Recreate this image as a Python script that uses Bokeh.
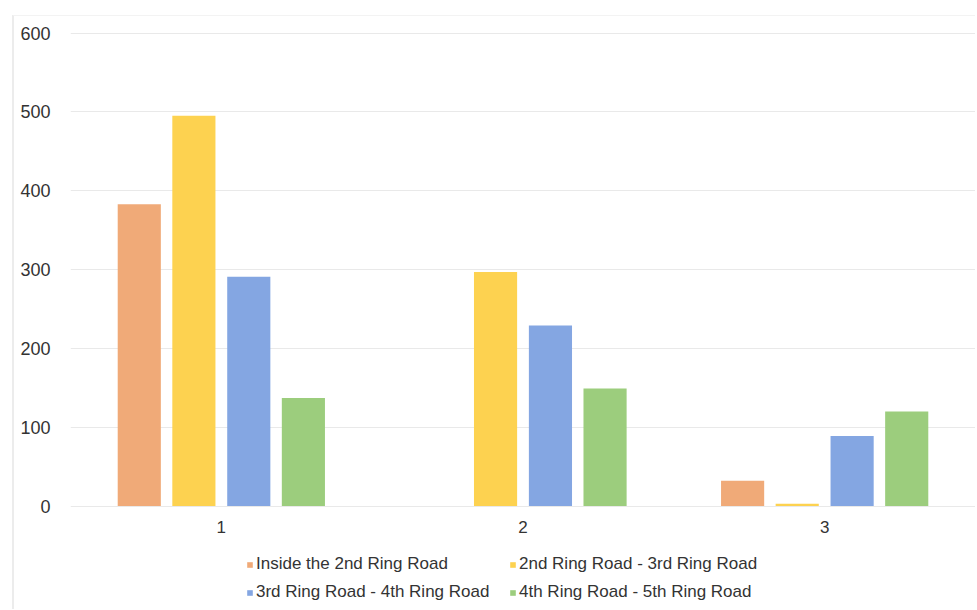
from bokeh.plotting import figure
from bokeh.models import ColumnDataSource, FactorRange, Range1d, Legend, LegendItem
from bokeh.core.properties import value
from bokeh.transform import dodge
from bokeh.embed import file_html
from bokeh.resources import INLINE

# Ring-road zones (series) and grouping categories
categories = ["1", "2", "3"]
series_names = [
    "Inside the 2nd Ring Road",
    "2nd Ring Road - 3rd Ring Road",
    "3rd Ring Road - 4th Ring Road",
    "4th Ring Road - 5th Ring Road",
]
inside_2nd = [383, 0, 32]
ring_2_3 = [495, 297, 3]
ring_3_4 = [291, 229, 89]
ring_4_5 = [137, 149, 120]
y_ticks = [0, 100, 200, 300, 400, 500, 600]

colors = ["#F0AA78", "#FDD250", "#84A6E2", "#9CCD7D"]
offsets = [-0.272, -0.091, 0.091, 0.272]
keys = ["inside_2nd", "ring_2_3", "ring_3_4", "ring_4_5"]
FONT = "Liberation Sans"

source = ColumnDataSource(data=dict(
    cat=categories,
    inside_2nd=inside_2nd,
    ring_2_3=ring_2_3,
    ring_3_4=ring_3_4,
    ring_4_5=ring_4_5,
))

# The plotting frame runs down to the bottom edge so the category labels and
# the two-row legend can live inside it, underneath the zero line.
p = figure(
    x_range=FactorRange(*categories, range_padding=0),
    y_range=Range1d(-132.5, 602),
    width=963, height=594,
    output_backend="svg", toolbar_location=None,
    min_border_left=56, min_border_right=2,
    min_border_top=15, min_border_bottom=0,
)
p.margin = (15, 0, 0, 12)
p.styles = {"border-left": "2px solid #ececec", "border-top": "1px solid #f3f3f3"}
p.outline_line_color = None
p.background_fill_color = "white"
p.border_fill_color = "white"

items = []
for key, name, col, off in zip(keys, series_names, colors, offsets):
    r = p.vbar(x=dodge("cat", off, range=p.x_range), top=key, bottom=0, width=0.143,
               source=source, fill_color=col, line_color=None)
    items.append(LegendItem(label=name, renderers=[r]))

# Category labels under the zero line
p.text(x=categories, y=[0] * len(categories), text=categories, y_offset=21,
       text_align="center", text_baseline="middle",
       text_font=value(FONT), text_font_size="17px", text_color="#333333")

p.xaxis.visible = False
p.xgrid.grid_line_color = None
p.ygrid.ticker = y_ticks
p.ygrid.grid_line_color = "#e9e9e9"
p.ygrid.grid_line_width = 1
p.yaxis.ticker = y_ticks
p.yaxis.axis_line_color = None
p.yaxis.major_tick_line_color = None
p.yaxis.minor_tick_line_color = None
p.yaxis.major_label_text_font = FONT
p.yaxis.major_label_text_font_size = "18px"
p.yaxis.major_label_text_color = "#333333"
p.yaxis.major_label_standoff = 14

# Two-column legend below the category labels
legend = Legend(
    items=items, orientation="horizontal", ncols=2,
    location=(176, 8),
    label_text_font=FONT, label_text_font_size="17px",
    label_text_color="#333333",
    glyph_width=7, glyph_height=7, label_standoff=3,
    label_height=20, label_width=245, spacing=8, padding=2, margin=0,
    border_line_color=None, background_fill_alpha=0,
)
p.add_layout(legend, "center")

open("out.html", "w").write(file_html(p, INLINE))
